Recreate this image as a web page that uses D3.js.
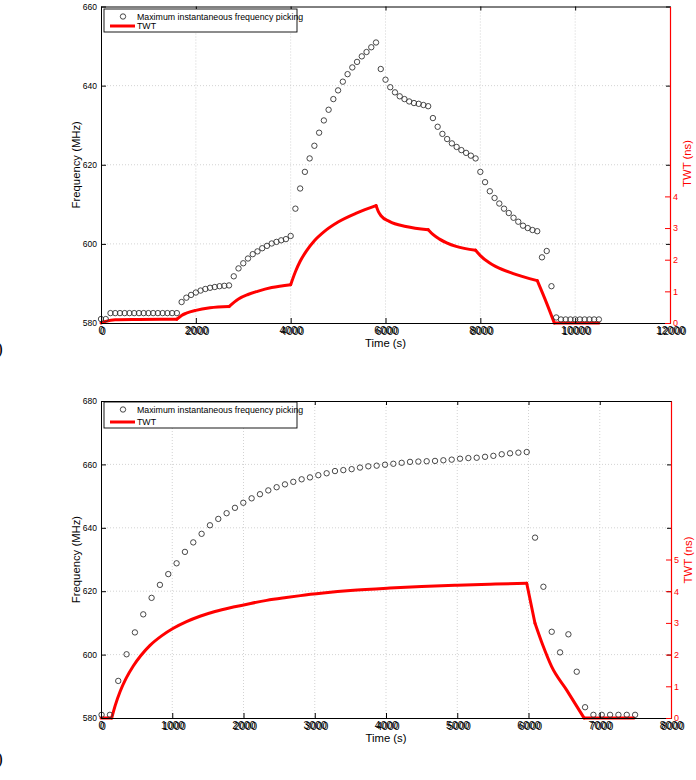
<!DOCTYPE html>
<html lang="en">
<head>
<meta charset="UTF-8">
<title>Frequency and TWT vs time</title>
<style>
  body, html { margin: 0; padding: 0; background: #ffffff; }
  svg { font-family: "Liberation Sans", Arial, sans-serif; }
  .grid line { stroke: #c8c8c8; stroke-width: 0.8; stroke-dasharray: 1,2; }
  .axis path, .axis line { stroke: #000; }
  .axis text { fill: #000; }
  .axis-red path, .axis-red line { stroke: #ff0000; }
  .axis-red text { fill: #ff0000; }
</style>
</head>
<body>
<div id="chart"></div>
<script src="https://d3js.org/d3.v7.min.js"></script>
<script>
// ---- top panel data ----
const topTime = [0,100,200,300,400,500,600,700,800,900,1000,1100,1200,1300,1400,1500,1600,
  1700,1800,1900,2000,2100,2200,2300,2400,2500,2600,2700,
  2800,2900,3000,3100,3200,3300,3400,3500,3600,3700,3800,3900,4000,
  4100,4200,4300,4400,4500,4600,4700,4800,4900,5000,5100,5200,5300,5400,5500,5600,5700,5800,
  5900,6000,6100,6200,6300,6400,6500,6600,6700,6800,6900,
  7000,7100,7200,7300,7400,7500,7600,7700,7800,7900,
  8000,8100,8200,8300,8400,8500,8600,8700,8800,8900,9000,9100,9200,
  9300,9400,9500,9600,9700,9800,9900,10000,10100,10200,10300,10400,10500];
const topFreq = [581.0,581.0,582.5,582.5,582.5,582.5,582.5,582.5,582.5,582.5,582.5,582.5,582.5,582.5,582.5,582.5,582.5,
  585.3,586.4,587.1,587.7,588.2,588.6,588.9,589.1,589.3,589.4,589.5,
  591.8,593.8,595.1,596.3,597.4,598.1,598.9,599.5,600.1,600.5,600.9,601.2,602.0,
  608.9,614.0,618.2,621.6,624.8,628.1,631.2,633.9,636.6,638.8,641.0,642.9,644.6,646.0,647.4,648.5,649.7,650.9,
  644.2,641.5,639.6,638.3,637.3,636.6,636.0,635.6,635.4,635.1,634.8,
  631.8,629.6,627.8,626.5,625.4,624.5,623.7,623.0,622.3,621.6,
  618.2,615.6,613.3,611.6,610.2,608.9,607.8,606.6,605.6,604.6,604.0,603.5,603.2,
  596.6,598.2,589.3,581.4,580.9,580.9,580.9,580.9,580.9,580.9,580.9,580.9,580.9];
const topTwtTime = [0,100,300,800,1600, 1700,1800,2000,2300,2700,
  2900,3100,3300,3600,4000, 4100,4200,4330,4500,4700,5000,5400,5800,
  5850,5910,6080,6430,6900, 7000,7140,7490,7900,
  8000,8190,8330,8680,9200, 9400,9560,10500];
const topTwt = [0.0,0.05,0.10,0.11,0.12, 0.24,0.31,0.40,0.48,0.52,
  0.76,0.90,1.00,1.12,1.21, 1.62,1.95,2.27,2.60,2.88,3.19,3.48,3.71,
  3.52,3.38,3.21,3.05,2.95, 2.80,2.65,2.42,2.30,
  2.13,1.90,1.78,1.57,1.34, 0.62,0.0,0.0];
// times where the TWT curve has a corner
const topTwtBreaks = [1600, 2700, 4000, 5800, 6900, 7900, 9200, 9560];
const topTimeTicks = [0,2000,4000,6000,8000,10000,12000];
const topFreqTicks = [580,600,620,640,660];
const topTwtTicks = [0,1,2,3,4];

// ---- bottom panel data ----
const botTime = [8,125,242,359,476,593,710,827,944,1061,1178,1295,1412,1529,1646,1763,1880,1997,2114,2231,
  2348,2465,2582,2699,2816,2933,3050,3167,3284,3401,3518,3635,3752,3869,3986,4103,4220,4337,4454,4571,
  4688,4805,4922,5039,5156,5273,5390,5507,5624,5741,5858,5975,6092,6209,6326,6443,6560,6677,6794,6911,
  7028,7145,7262,7379,7496];
const botFreq = [581.0,581.0,591.7,600.1,607.0,612.7,617.9,622.0,625.4,628.8,632.4,635.4,638.1,640.8,642.8,644.6,646.3,647.9,649.3,650.6,
  651.8,652.8,653.7,654.5,655.3,655.9,656.6,657.2,657.9,658.2,658.5,659.0,659.4,659.6,659.9,660.2,660.5,660.8,660.9,661.0,
  661.1,661.3,661.5,661.8,662.0,662.1,662.4,662.7,663.2,663.5,663.7,663.9,636.9,621.4,607.2,600.7,606.4,594.6,583.4,581.0,
  581.0,581.0,581.0,581.0,581.0];
const botTwtTime = [0,150,200,267,350,453,560,688,850,1015,1200,1389,1600,1857,2100,2325,2600,2800,3120,3500,
  4056,4500,5000,5460,5975, 6091,6200,6325,6536,6780,7480];
const botTwt = [0,0,0.40,0.83,1.24,1.64,1.97,2.29,2.59,2.83,3.04,3.21,3.36,3.50,3.615,3.71,3.80,3.86,3.94,4.02,
  4.10,4.15,4.19,4.22,4.25, 2.99,2.30,1.62,0.88,0.0,0.0];
const botTwtBreaks = [150, 5975, 6091, 6780];
const botTimeTicks = [0,1000,2000,3000,4000,5000,6000,7000,8000];
const botFreqTicks = [580,600,620,640,660,680];
const botTwtTicks = [0,1,2,3,4,5];

const legendLabels = ["Maximum instantaneous frequency picking", "TWT"];

const svg = d3.select("#chart").append("svg")
  .attr("width", 696).attr("height", 780);

// split the curve into pieces at its corners, so each piece can be smoothed on its own
function splitAt(times, vals, breaks) {
  const pieces = [];
  let cur = [];
  times.forEach((t, i) => {
    cur.push([t, vals[i]]);
    if (breaks.includes(t) && i < times.length - 1) {
      pieces.push(cur);
      cur = [[t, vals[i]]];
    }
  });
  if (cur.length > 1) pieces.push(cur);
  return pieces;
}

function drawPanel(p) {
  const w = p.width, h = p.height;
  const g = svg.append("g").attr("transform", `translate(${p.left},${p.top})`);

  const x = d3.scaleLinear().domain(p.xDomain).range([0, w]);
  const y = d3.scaleLinear().domain(p.yDomain).range([h, 0]);
  const y2 = d3.scaleLinear().domain([0, 10]).range([h, 0]);

  // dotted grid
  g.append("g").attr("class", "grid")
    .selectAll("line").data(p.xTicks.slice(1, -1)).enter().append("line")
    .attr("x1", d => x(d)).attr("x2", d => x(d)).attr("y1", 0).attr("y2", h);
  g.append("g").attr("class", "grid")
    .selectAll("line").data(p.yTicks.slice(1, -1)).enter().append("line")
    .attr("x1", 0).attr("x2", w).attr("y1", d => y(d)).attr("y2", d => y(d));

  // TWT curve
  const line = d3.line().x(d => x(d[0])).y(d => y2(d[1])).curve(d3.curveMonotoneX);
  g.append("g").selectAll("path")
    .data(splitAt(p.twtTime, p.twt, p.breaks))
    .enter().append("path")
    .attr("d", line)
    .attr("fill", "none").attr("stroke", "#ff0000")
    .attr("stroke-width", 3).attr("stroke-linecap", "round");

  // frequency picks
  g.append("g").selectAll("circle")
    .data(p.time.map((t, i) => [t, p.freq[i]]))
    .enter().append("circle")
    .attr("cx", d => x(d[0])).attr("cy", d => y(d[1]))
    .attr("r", 2.7).attr("fill", "none")
    .attr("stroke", "#333").attr("stroke-width", 0.9);

  // axes: MATLAB style, inward ticks
  const xAxis = g.append("g").attr("class", "axis")
    .attr("transform", `translate(0,${h})`)
    .call(d3.axisBottom(x).tickValues(p.xTicks).tickFormat(d3.format("d"))
      .tickSizeInner(-5).tickSizeOuter(0).tickPadding(4));
  xAxis.selectAll("text").style("font-size", "10.5px");
  // the source figure shows each label printed twice, a hair apart
  xAxis.selectAll(".tick text").clone(true).attr("x", 1.3).attr("dy", "0.8em");

  g.append("g").attr("class", "axis")
    .call(d3.axisTop(x).tickValues(p.xTicks).tickFormat("")
      .tickSizeInner(-4).tickSizeOuter(0));

  const yAxis = g.append("g").attr("class", "axis")
    .call(d3.axisLeft(y).tickValues(p.yTicks).tickFormat(d3.format("d"))
      .tickSizeInner(-5).tickSizeOuter(0).tickPadding(4));
  yAxis.selectAll("text").style("font-size", "8.5px");

  g.append("g").attr("class", "axis")
    .attr("transform", `translate(${w},0)`)
    .call(d3.axisRight(y).tickValues(p.yTicks).tickFormat("")
      .tickSizeInner(-4).tickSizeOuter(0));

  const rAxis = g.append("g").attr("class", "axis-red")
    .attr("transform", `translate(${w},0)`)
    .call(d3.axisRight(y2).tickValues(p.twtTicks).tickFormat(d3.format("d"))
      .tickSizeInner(-5).tickSizeOuter(0).tickPadding(3));
  rAxis.selectAll("text").style("font-size", "9px");
  rAxis.select(".domain").attr("stroke-width", 1.2);

  // axis titles
  g.append("text").attr("x", w / 2).attr("y", h + 24)
    .attr("text-anchor", "middle").style("font-size", "11.3px").text("Time (s)");
  g.append("text").attr("transform", `translate(-21,${h / 2}) rotate(-90)`)
    .attr("text-anchor", "middle").style("font-size", "11.3px").text("Frequency (MHz)");
  g.append("text").attr("transform", `translate(${w + 21},${p.twtLabelY}) rotate(-90)`)
    .attr("text-anchor", "middle").attr("fill", "#ff0000")
    .style("font-size", "11.3px").text("TWT (ns)");

  // legend
  const lg = g.append("g").attr("transform", `translate(3,${p.legendTop})`);
  lg.append("rect").attr("width", 193).attr("height", p.legendH)
    .attr("fill", "#fff").attr("stroke", "#000").attr("stroke-width", 0.9);
  lg.append("circle").attr("cx", 19).attr("cy", 7.5).attr("r", 2.7)
    .attr("fill", "none").attr("stroke", "#333").attr("stroke-width", 0.9);
  lg.append("line").attr("x1", 6).attr("x2", 31)
    .attr("y1", p.legendH - 6).attr("y2", p.legendH - 6)
    .attr("stroke", "#ff0000").attr("stroke-width", 3);
  lg.selectAll("text.lab").data(legendLabels).enter().append("text")
    .attr("x", 33).attr("y", (d, i) => i === 0 ? 10.5 : p.legendH - 3)
    .style("font-size", "8.8px").text(d => d);
}

drawPanel({
  left: 101, top: 6.5, width: 569, height: 316.5,
  xDomain: [0, 12000], yDomain: [580, 660],
  xTicks: topTimeTicks, yTicks: topFreqTicks, twtTicks: topTwtTicks,
  time: topTime, freq: topFreq, twtTime: topTwtTime, twt: topTwt, breaks: topTwtBreaks,
  twtLabelY: 157, legendTop: 2.5, legendH: 23
});

drawPanel({
  left: 101, top: 401, width: 570, height: 317,
  xDomain: [0, 8000], yDomain: [580, 680],
  xTicks: botTimeTicks, yTicks: botFreqTicks, twtTicks: botTwtTicks,
  time: botTime, freq: botFreq, twtTime: botTwtTime, twt: botTwt, breaks: botTwtBreaks,
  twtLabelY: 159, legendTop: 1, legendH: 26
});

// caption brackets cut off at the left edge, as in the source
svg.selectAll("text.cap").data([355, 765]).enter().append("text")
  .attr("x", -3).attr("y", d => d)
  .style("font-family", "'DejaVu Serif', 'Liberation Serif', serif")
  .style("font-size", "16px").text(")");
</script>
</body>
</html>
